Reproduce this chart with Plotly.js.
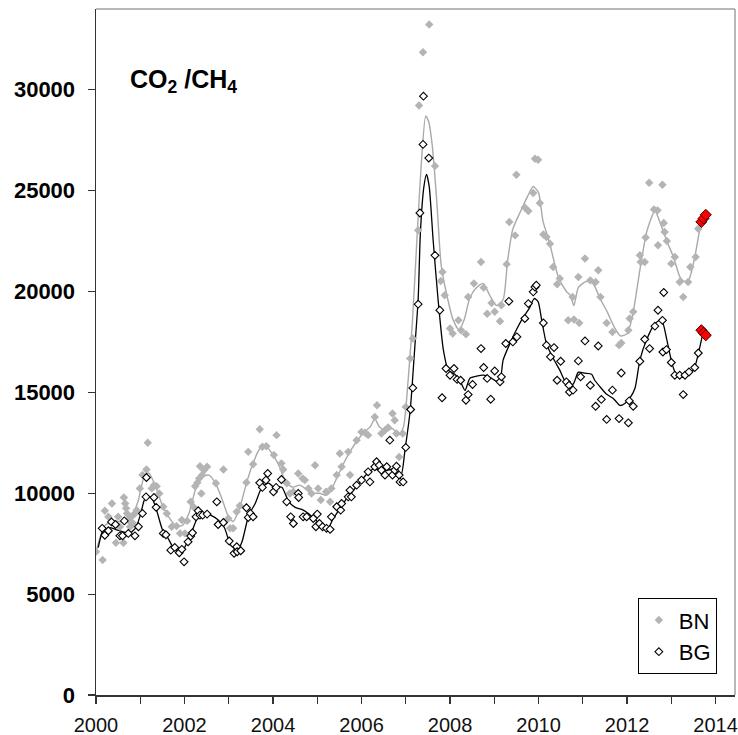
<!DOCTYPE html>
<html>
<head>
<meta charset="utf-8">
<script src="https://cdn.plot.ly/plotly-3.0.1.min.js"></script>
<style>html,body{margin:0;padding:0;background:#fff}#chart{width:738px;height:735px}</style>
</head>
<body>
<div id="chart"></div>
<script>
// ---- BN observations (decimal year, CO2/CH4) ----
const bnYears = [2000.0,2000.15,2000.2,2000.28,2000.36,2000.45,2000.5,2000.54,2000.62,2000.63,2000.66,2000.68,2000.7,2000.73,2000.77,2000.8,2000.84,2000.88,2000.92,2000.99,
2001.05,2001.14,2001.17,2001.26,2001.31,2001.37,2001.43,2001.52,2001.6,2001.71,2001.82,2001.9,2001.94,2002.01,2002.06,2002.14,2002.2,2002.24,2002.29,2002.33,
2002.35,2002.38,2002.4,2002.44,2002.51,2002.71,2002.88,2002.99,2003.03,2003.1,2003.18,2003.25,2003.4,2003.44,2003.55,2003.7,2003.76,2003.85,2004.02,2004.08,
2004.19,2004.23,2004.31,2004.38,2004.46,2004.57,2004.67,2004.72,2004.8,2004.87,2004.95,2005.02,2005.08,2005.2,2005.29,2005.32,2005.44,2005.51,2005.55,2005.7,
2005.74,2005.89,2006.0,2006.08,2006.15,2006.3,2006.35,2006.45,2006.53,2006.6,2006.7,2006.75,2006.79,2006.85,2006.93,2007.0,2007.1,2007.16,2007.28,2007.3,
2007.39,2007.53,2007.66,2007.79,2007.83,2007.88,2008.0,2008.06,2008.19,2008.25,2008.36,2008.41,2008.54,2008.7,2008.76,2008.84,2008.94,2009.01,2009.13,2009.16,
2009.28,2009.34,2009.47,2009.5,2009.69,2009.77,2009.88,2009.92,2009.99,2010.03,2010.11,2010.18,2010.26,2010.33,2010.42,2010.48,2010.67,2010.77,2010.8,2010.9,
2010.92,2011.05,2011.17,2011.29,2011.35,2011.4,2011.54,2011.67,2011.82,2011.87,2012.03,2012.06,2012.14,2012.29,2012.31,2012.4,2012.42,2012.5,2012.61,2012.69,
2012.7,2012.8,2012.83,2012.85,2012.9,2013.0,2013.08,2013.19,2013.27,2013.38,2013.43,2013.55,2013.61];
const bnValues = [7100,6690,9130,8830,9490,7545,8830,8340,7545,9790,9490,9250,9000,8670,8340,8830,8500,9000,9160,10240,
10900,11180,12500,10240,10400,10350,9990,9330,9000,8340,8370,8010,8670,8010,8630,9575,9330,10350,10515,10730,
11340,9990,10900,11140,11310,10490,11180,8750,8260,8260,9080,9380,10530,12050,11440,13170,12300,12330,11890,12880,
11480,11180,10490,9990,10070,10980,10730,10650,10240,9990,11390,10240,9660,10070,9575,10240,10900,11970,11310,12050,
10900,12630,13040,13000,12880,13780,14360,12960,13120,13260,13950,13620,12960,11800,12960,14280,16680,17670,23030,29220,
31860,33230,26220,20520,20970,19810,18160,17920,18570,18080,17880,19730,20390,21460,20190,18900,19430,18990,18520,19320,
21350,23440,22780,25790,24160,23990,24880,26580,26530,24380,22820,22700,22370,21210,20360,20640,18570,19730,18610,20720,
18440,21630,20550,20470,21050,19730,18440,17990,17340,17450,18080,18660,18990,21790,21460,21460,22670,25390,24060,24020,
22290,25290,23390,22950,22500,21380,21710,20470,19730,20470,21210,21710,23110];

// ---- BG observations ----
const bgYears = [2000.14,2000.2,2000.28,2000.35,2000.44,2000.54,2000.6,2000.64,2000.73,2000.88,2000.96,2001.05,2001.13,2001.14,2001.31,2001.36,2001.52,2001.58,2001.69,2001.78,
2001.88,2001.94,2001.99,2002.08,2002.14,2002.18,2002.26,2002.31,2002.35,2002.41,2002.51,2002.73,2002.76,2002.88,2003.01,2003.12,2003.18,2003.19,2003.27,2003.4,
2003.44,2003.49,2003.55,2003.7,2003.76,2003.84,2003.88,2004.01,2004.07,2004.19,2004.31,2004.4,2004.46,2004.57,2004.58,2004.68,2004.76,2004.91,2004.97,2005.0,
2005.05,2005.12,2005.21,2005.29,2005.32,2005.44,2005.53,2005.55,2005.7,2005.74,2005.77,2005.89,2006.0,2006.15,2006.19,2006.3,2006.34,2006.4,2006.45,2006.53,
2006.57,2006.64,2006.7,2006.75,2006.79,2006.85,2006.87,2006.94,2007.0,2007.11,2007.16,2007.28,2007.32,2007.39,2007.4,2007.52,2007.66,2007.77,2007.82,2007.91,
2008.0,2008.09,2008.16,2008.24,2008.36,2008.41,2008.51,2008.7,2008.76,2008.84,2008.92,2009.01,2009.13,2009.16,2009.26,2009.33,2009.42,2009.51,2009.69,2009.77,
2009.88,2009.92,2009.95,2010.11,2010.18,2010.27,2010.35,2010.42,2010.5,2010.63,2010.69,2010.7,2010.78,2010.9,2010.95,2011.05,2011.17,2011.29,2011.35,2011.42,
2011.54,2011.67,2011.82,2011.87,2012.03,2012.05,2012.14,2012.29,2012.4,2012.51,2012.63,2012.7,2012.8,2012.81,2012.83,2012.89,2013.0,2013.08,2013.19,2013.27,
2013.31,2013.4,2013.53,2013.61];
const bgValues = [8260,7920,8140,8580,8450,7890,7890,8630,8010,7890,8340,9000,9820,10780,9790,9300,8010,7940,7180,7315,
7050,7220,6600,7590,7875,8040,8830,9130,8915,8915,8965,9575,8450,8550,7630,7020,7345,7100,7150,9280,
8800,9000,8830,10515,10290,10650,10980,10070,10290,10680,9575,8830,8500,9990,9790,8830,8830,8750,8340,8965,
8500,8340,8260,8210,8830,9330,9160,9490,9820,10150,9820,10400,10650,11060,10560,11310,11560,11390,11140,10900,
11310,12630,10900,11140,11340,10900,10560,10560,12270,14150,15220,19370,23890,27290,29680,26610,21790,19070,14730,16180,
15850,16180,15640,15600,14610,14890,15390,17170,16230,15690,14660,16060,15520,15770,17420,19510,17500,17750,18660,19400,
19980,20220,20310,18440,17340,16760,17220,15600,16540,15520,15350,15020,15110,16560,15770,17550,15350,14310,17300,14650,
13660,15110,13700,15960,13490,14580,14310,16540,17630,17170,18280,19070,18570,17000,19950,17120,16480,15850,15850,14890,
15850,16010,16230,16950];

// ---- latest samples (red) ----
const bnRecentYears = [2013.68,2013.73,2013.78];
const bnRecentValues = [23450,23620,23800];
const bgRecentYears = [2013.68,2013.73,2013.78];
const bgRecentValues = [18080,17950,17830];

// ---- smoothed curves ----
const bnSmoothYears = [2000.0,2000.2,2000.4,2000.6,2000.8,2000.95,2001.1,2001.2,2001.35,2001.5,2001.65,2001.8,2001.95,2002.1,2002.25,2002.4,2002.55,2002.7,2002.85,2003.0,
2003.1,2003.25,2003.4,2003.55,2003.7,2003.85,2004.0,2004.15,2004.3,2004.45,2004.6,2004.75,2004.9,2005.05,2005.2,2005.3,2005.45,2005.6,2005.75,2005.9,
2006.05,2006.2,2006.3,2006.4,2006.55,2006.7,2006.85,2006.95,2007.05,2007.15,2007.25,2007.35,2007.45,2007.52,2007.6,2007.7,2007.8,2007.92,2008.07,2008.2,
2008.32,2008.45,2008.6,2008.75,2008.9,2009.05,2009.2,2009.3,2009.42,2009.6,2009.75,2009.88,2010.0,2010.1,2010.25,2010.45,2010.63,2010.72,2010.8,2010.9,
2011.08,2011.23,2011.38,2011.55,2011.72,2011.85,2012.0,2012.08,2012.15,2012.3,2012.45,2012.63,2012.75,2012.9,2013.05,2013.2,2013.3,2013.4,2013.53,2013.64,2013.73];
const bnSmoothValues = [7100,8400,8600,8600,8800,9600,10900,11000,10300,9400,8800,8400,8400,9000,10200,10800,10900,10500,9700,8800,
8600,9300,10500,11500,12200,12300,11900,11300,10500,10300,10400,10200,10000,10000,9900,10100,10800,11500,12100,12600,
13000,13300,13700,13300,13100,13200,12900,13300,15500,18500,22500,26300,28700,28400,27200,24500,21300,19900,18600,18100,
18600,19700,20200,20400,19800,19300,19600,21500,23100,24000,24700,25200,24900,23500,22400,20700,20000,19800,19300,20200,
20500,20400,19700,19000,18200,17800,17900,18400,19100,21200,23000,24000,23400,22500,21700,20700,20500,20600,21700,23000,23600];

const bgSmoothYears = [2000.05,2000.15,2000.3,2000.45,2000.6,2000.75,2000.9,2001.0,2001.12,2001.25,2001.35,2001.5,2001.62,2001.75,2001.9,2002.0,2002.15,2002.3,2002.45,2002.6,
2002.75,2002.9,2003.05,2003.2,2003.3,2003.45,2003.6,2003.75,2003.9,2004.02,2004.2,2004.35,2004.5,2004.65,2004.8,2004.95,2005.1,2005.25,2005.35,2005.5,
2005.65,2005.8,2005.95,2006.1,2006.26,2006.49,2006.72,2006.83,2006.9,2006.98,2007.1,2007.2,2007.28,2007.33,2007.41,2007.47,2007.53,2007.62,2007.73,2007.85,
2007.96,2008.11,2008.22,2008.34,2008.45,2008.6,2008.75,2008.9,2009.05,2009.13,2009.2,2009.35,2009.5,2009.65,2009.8,2009.9,2009.99,2010.07,2010.18,2010.33,
2010.48,2010.63,2010.78,2010.9,2011.05,2011.2,2011.27,2011.38,2011.54,2011.69,2011.84,2011.95,2012.06,2012.18,2012.29,2012.44,2012.63,2012.78,2012.9,2013.02,
2013.12,2013.27,2013.42,2013.53,2013.61,2013.71];
const bgSmoothValues = [7300,8100,8300,8200,8100,8000,8300,8900,9800,9800,9300,8200,7800,7300,7100,7300,8000,8800,9000,8900,
8700,8300,7400,7200,7600,8900,9500,10300,10500,10300,10300,9600,9300,9200,9000,8700,8400,8300,8700,9200,
9700,10100,10500,10900,11200,11100,11200,11050,10950,12100,14100,17100,19600,22900,25200,25800,25200,22500,19600,17100,
16100,15900,15600,15100,15700,15800,15850,15750,15550,15600,16600,17400,18100,18700,19200,19650,19500,18600,17400,16700,
16100,15450,15400,16000,15950,15900,15600,15300,14900,14700,14350,14450,14700,15200,16600,17600,18400,18600,17600,16400,
15850,15750,15900,16250,16900,17900];

const yTicks = [0,5000,10000,15000,20000,25000,30000];
const yTickText = ['0','5000','10000','15000','20000','25000','30000'];
const xTickVals = [2000,2002,2004,2006,2008,2010,2012,2014];
const xTickText = ['2000','2002','2004','2006','2008','2010','2012','2014'];

const traces = [
  {x: bnSmoothYears, y: bnSmoothValues, mode: 'lines', line: {color: '#a9a9a9', width: 1.4, shape: 'spline', smoothing: 0.6}, showlegend: false, hoverinfo: 'skip'},
  {x: bgSmoothYears, y: bgSmoothValues, mode: 'lines', line: {color: '#000000', width: 1.3, shape: 'spline', smoothing: 0.6}, showlegend: false, hoverinfo: 'skip'},
  {x: bnYears, y: bnValues, name: 'BN', mode: 'markers', marker: {symbol: 'diamond', size: 6.5, color: '#b4b4b4', line: {width: 0}}},
  {x: bgYears, y: bgValues, name: 'BG', mode: 'markers', marker: {symbol: 'diamond', size: 6, color: '#ffffff', line: {width: 1.1, color: '#000000'}}},
  {x: bnRecentYears, y: bnRecentValues, mode: 'markers', showlegend: false, marker: {symbol: 'diamond', size: 8.5, color: '#ff0000', line: {width: 1, color: '#400000'}}},
  {x: bgRecentYears, y: bgRecentValues, mode: 'markers', showlegend: false, marker: {symbol: 'diamond', size: 8.5, color: '#ff0000', line: {width: 1, color: '#400000'}}}
];

const layout = {
  width: 738, height: 735,
  margin: {l: 96, r: 3, t: 9, b: 40, pad: 0},
  paper_bgcolor: '#ffffff', plot_bgcolor: '#ffffff',
  font: {family: 'Liberation Sans, Arial, sans-serif', color: '#000'},
  xaxis: {
    range: [2000, 2014.44], tickmode: 'array', tickvals: xTickVals, ticktext: xTickText,
    ticks: 'outside', ticklen: 7, tickwidth: 1.2, tickcolor: '#333',
    minor: {tickmode: 'linear', tick0: 2000, dtick: 1, ticks: 'outside', ticklen: 7, tickwidth: 1.2, tickcolor: '#333', showgrid: false},
    showline: true, linecolor: '#333', linewidth: 1.5, showgrid: false, zeroline: false,
    tickfont: {size: 20, color: '#111'}, ticklabelstandoff: 4
  },
  yaxis: {
    range: [0, 34000], tickmode: 'array', tickvals: yTicks, ticktext: yTickText,
    ticks: 'outside', ticklen: 7, tickwidth: 1.2, tickcolor: '#333',
    showline: true, linecolor: '#333', linewidth: 1.5, showgrid: false, zeroline: false,
    tickfont: {size: 22, color: '#000', weight: 'bold'}, ticklabelstandoff: 8
  },
  shapes: [
    {type: 'line', xref: 'paper', yref: 'paper', x0: 0, x1: 1, y0: 1, y1: 1, line: {color: '#a0a0a0', width: 1.5}},
    {type: 'line', xref: 'paper', yref: 'paper', x0: 1, x1: 1, y0: 0, y1: 1, line: {color: '#a0a0a0', width: 1.5}}
  ],
  annotations: [
    {text: '<b>CO<sub>2</sub> /CH<sub>4</sub></b>', xref: 'paper', yref: 'paper', x: 0.05, y: 0.895,
     xanchor: 'left', yanchor: 'middle', showarrow: false, font: {size: 25, color: '#000'}}
  ],
  legend: {
    x: 0.848, y: 0.141, xanchor: 'left', yanchor: 'top',
    bordercolor: '#000', borderwidth: 1, bgcolor: '#fff',
    font: {size: 22, color: '#000'}, itemwidth: 30, tracegroupgap: 0
  }
};

Plotly.newPlot('chart', traces, layout, {displayModeBar: false, staticPlot: true});
</script>
</body>
</html>
